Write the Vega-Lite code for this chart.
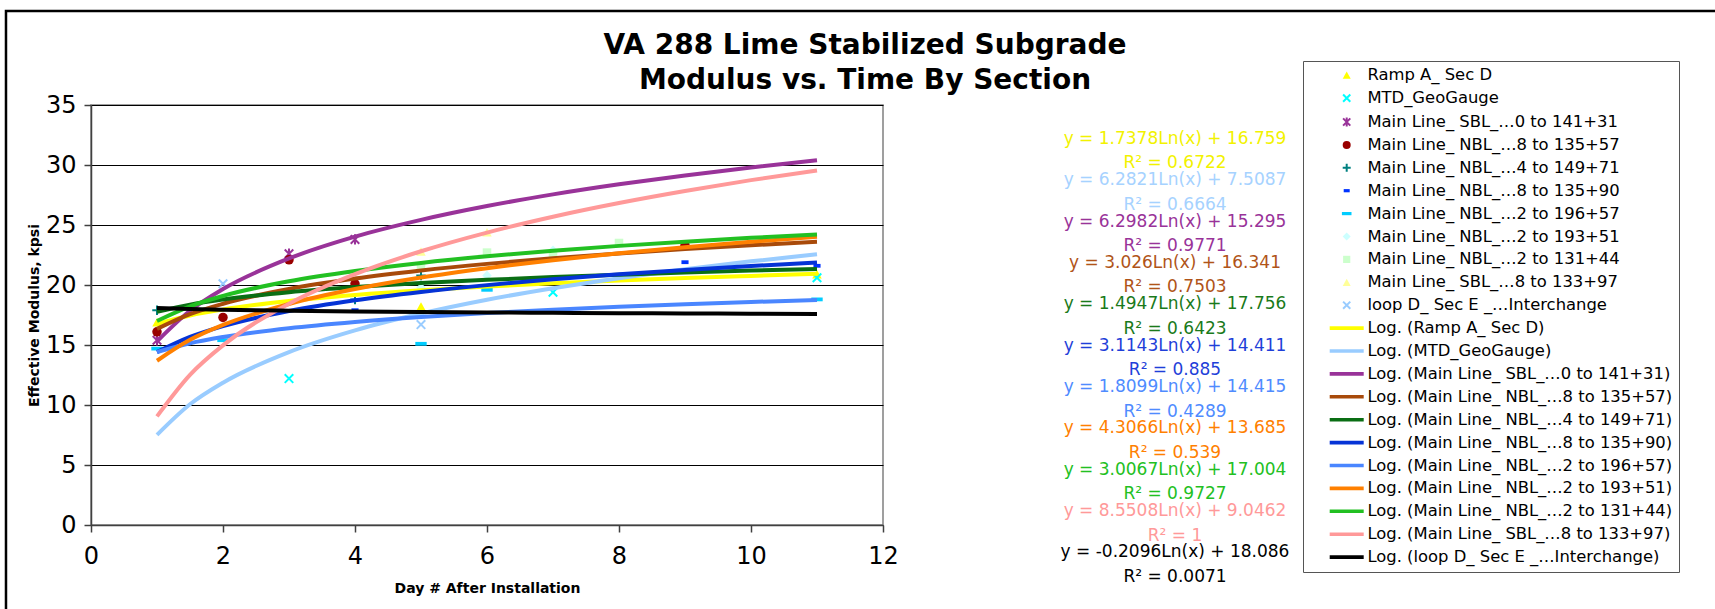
{
  "$schema": "https://vega.github.io/schema/vega-lite/v6.json",
  "width": 792,
  "height": 420,
  "autosize": {"type": "none"},
  "padding": {"left": 91, "top": 105, "right": 832, "bottom": 84},
  "background": "white",
  "title": {
    "text": ["VA 288 Lime Stabilized Subgrade", "Modulus vs. Time By Section"],
    "font": "DejaVu Sans", "fontSize": 28, "fontWeight": "bold", "color": "#000000",
    "anchor": "middle", "frame": "group", "dx": 378, "dy": 113.6, "offset": 0,
    "lineHeight": 35, "baseline": "bottom"
  },
  "datasets": {
    "pts": [
      {"series": "Ramp A_ Sec D", "day": 1, "kpsi": 16.9},
      {"series": "Ramp A_ Sec D", "day": 5, "kpsi": 18.2},
      {"series": "Ramp A_ Sec D", "day": 11, "kpsi": 20.9},
      {"series": "MTD_GeoGauge", "day": 3, "kpsi": 12.2},
      {"series": "MTD_GeoGauge", "day": 7, "kpsi": 19.4},
      {"series": "MTD_GeoGauge", "day": 11, "kpsi": 20.6},
      {"series": "Main Line_ SBL_…0 to 141+31", "day": 1, "kpsi": 15.4},
      {"series": "Main Line_ SBL_…0 to 141+31", "day": 3, "kpsi": 22.6},
      {"series": "Main Line_ SBL_…0 to 141+31", "day": 4, "kpsi": 23.8},
      {"series": "Main Line_ NBL_…8 to 135+57", "day": 1, "kpsi": 16.1},
      {"series": "Main Line_ NBL_…8 to 135+57", "day": 2, "kpsi": 17.3},
      {"series": "Main Line_ NBL_…8 to 135+57", "day": 3, "kpsi": 22.1},
      {"series": "Main Line_ NBL_…8 to 135+57", "day": 4, "kpsi": 20.1},
      {"series": "Main Line_ NBL_…8 to 135+57", "day": 9, "kpsi": 23.3},
      {"series": "Main Line_ NBL_…4 to 149+71", "day": 1, "kpsi": 17.9},
      {"series": "Main Line_ NBL_…4 to 149+71", "day": 4, "kpsi": 18.8},
      {"series": "Main Line_ NBL_…4 to 149+71", "day": 5, "kpsi": 20.8},
      {"series": "Main Line_ NBL_…8 to 135+90", "day": 4, "kpsi": 17.9},
      {"series": "Main Line_ NBL_…8 to 135+90", "day": 9, "kpsi": 21.9},
      {"series": "Main Line_ NBL_…8 to 135+90", "day": 11, "kpsi": 21.6},
      {"series": "Main Line_ NBL_…2 to 196+57", "day": 1, "kpsi": 14.7},
      {"series": "Main Line_ NBL_…2 to 196+57", "day": 2, "kpsi": 15.4},
      {"series": "Main Line_ NBL_…2 to 196+57", "day": 5, "kpsi": 15.1},
      {"series": "Main Line_ NBL_…2 to 196+57", "day": 6, "kpsi": 19.6},
      {"series": "Main Line_ NBL_…2 to 196+57", "day": 11, "kpsi": 18.8},
      {"series": "Main Line_ NBL_…2 to 193+51", "day": 5, "kpsi": 19.8},
      {"series": "Main Line_ NBL_…2 to 193+51", "day": 6, "kpsi": 20.8},
      {"series": "Main Line_ NBL_…2 to 193+51", "day": 7, "kpsi": 22.9},
      {"series": "Main Line_ NBL_…2 to 131+44", "day": 5, "kpsi": 21.5},
      {"series": "Main Line_ NBL_…2 to 131+44", "day": 6, "kpsi": 22.7},
      {"series": "Main Line_ NBL_…2 to 131+44", "day": 7, "kpsi": 22.6},
      {"series": "Main Line_ NBL_…2 to 131+44", "day": 8, "kpsi": 23.5},
      {"series": "Main Line_ SBL_…8 to 133+97", "day": 5, "kpsi": 22.8},
      {"series": "Main Line_ SBL_…8 to 133+97", "day": 6, "kpsi": 24.4},
      {"series": "loop D_ Sec E _…Interchange", "day": 2, "kpsi": 20.1},
      {"series": "loop D_ Sec E _…Interchange", "day": 5, "kpsi": 16.7}
    ],
    "curves": [
      {"trend": "Log. (Ramp A_ Sec D)", "day": 1, "kpsi": 16.76},
      {"trend": "Log. (Ramp A_ Sec D)", "day": 1.5, "kpsi": 17.46},
      {"trend": "Log. (Ramp A_ Sec D)", "day": 2, "kpsi": 17.96},
      {"trend": "Log. (Ramp A_ Sec D)", "day": 3, "kpsi": 18.67},
      {"trend": "Log. (Ramp A_ Sec D)", "day": 4, "kpsi": 19.17},
      {"trend": "Log. (Ramp A_ Sec D)", "day": 5, "kpsi": 19.56},
      {"trend": "Log. (Ramp A_ Sec D)", "day": 6, "kpsi": 19.87},
      {"trend": "Log. (Ramp A_ Sec D)", "day": 7, "kpsi": 20.14},
      {"trend": "Log. (Ramp A_ Sec D)", "day": 8, "kpsi": 20.37},
      {"trend": "Log. (Ramp A_ Sec D)", "day": 9, "kpsi": 20.58},
      {"trend": "Log. (Ramp A_ Sec D)", "day": 10, "kpsi": 20.76},
      {"trend": "Log. (Ramp A_ Sec D)", "day": 11, "kpsi": 20.93},
      {"trend": "Log. (MTD_GeoGauge)", "day": 1, "kpsi": 7.51},
      {"trend": "Log. (MTD_GeoGauge)", "day": 1.5, "kpsi": 10.06},
      {"trend": "Log. (MTD_GeoGauge)", "day": 2, "kpsi": 11.86},
      {"trend": "Log. (MTD_GeoGauge)", "day": 3, "kpsi": 14.41},
      {"trend": "Log. (MTD_GeoGauge)", "day": 4, "kpsi": 16.22},
      {"trend": "Log. (MTD_GeoGauge)", "day": 5, "kpsi": 17.62},
      {"trend": "Log. (MTD_GeoGauge)", "day": 6, "kpsi": 18.77},
      {"trend": "Log. (MTD_GeoGauge)", "day": 7, "kpsi": 19.73},
      {"trend": "Log. (MTD_GeoGauge)", "day": 8, "kpsi": 20.57},
      {"trend": "Log. (MTD_GeoGauge)", "day": 9, "kpsi": 21.31},
      {"trend": "Log. (MTD_GeoGauge)", "day": 10, "kpsi": 21.97},
      {"trend": "Log. (MTD_GeoGauge)", "day": 11, "kpsi": 22.57},
      {"trend": "Log. (Main Line_ SBL_…0 to 141+31)", "day": 1, "kpsi": 15.30},
      {"trend": "Log. (Main Line_ SBL_…0 to 141+31)", "day": 1.5, "kpsi": 17.85},
      {"trend": "Log. (Main Line_ SBL_…0 to 141+31)", "day": 2, "kpsi": 19.66},
      {"trend": "Log. (Main Line_ SBL_…0 to 141+31)", "day": 3, "kpsi": 22.21},
      {"trend": "Log. (Main Line_ SBL_…0 to 141+31)", "day": 4, "kpsi": 24.03},
      {"trend": "Log. (Main Line_ SBL_…0 to 141+31)", "day": 5, "kpsi": 25.43},
      {"trend": "Log. (Main Line_ SBL_…0 to 141+31)", "day": 6, "kpsi": 26.58},
      {"trend": "Log. (Main Line_ SBL_…0 to 141+31)", "day": 7, "kpsi": 27.55},
      {"trend": "Log. (Main Line_ SBL_…0 to 141+31)", "day": 8, "kpsi": 28.39},
      {"trend": "Log. (Main Line_ SBL_…0 to 141+31)", "day": 9, "kpsi": 29.13},
      {"trend": "Log. (Main Line_ SBL_…0 to 141+31)", "day": 10, "kpsi": 29.80},
      {"trend": "Log. (Main Line_ SBL_…0 to 141+31)", "day": 11, "kpsi": 30.40},
      {"trend": "Log. (Main Line_ NBL_…8 to 135+57)", "day": 1, "kpsi": 16.34},
      {"trend": "Log. (Main Line_ NBL_…8 to 135+57)", "day": 1.5, "kpsi": 17.57},
      {"trend": "Log. (Main Line_ NBL_…8 to 135+57)", "day": 2, "kpsi": 18.44},
      {"trend": "Log. (Main Line_ NBL_…8 to 135+57)", "day": 3, "kpsi": 19.67},
      {"trend": "Log. (Main Line_ NBL_…8 to 135+57)", "day": 4, "kpsi": 20.54},
      {"trend": "Log. (Main Line_ NBL_…8 to 135+57)", "day": 5, "kpsi": 21.21},
      {"trend": "Log. (Main Line_ NBL_…8 to 135+57)", "day": 6, "kpsi": 21.76},
      {"trend": "Log. (Main Line_ NBL_…8 to 135+57)", "day": 7, "kpsi": 22.23},
      {"trend": "Log. (Main Line_ NBL_…8 to 135+57)", "day": 8, "kpsi": 22.63},
      {"trend": "Log. (Main Line_ NBL_…8 to 135+57)", "day": 9, "kpsi": 22.99},
      {"trend": "Log. (Main Line_ NBL_…8 to 135+57)", "day": 10, "kpsi": 23.31},
      {"trend": "Log. (Main Line_ NBL_…8 to 135+57)", "day": 11, "kpsi": 23.60},
      {"trend": "Log. (Main Line_ NBL_…4 to 149+71)", "day": 1, "kpsi": 17.76},
      {"trend": "Log. (Main Line_ NBL_…4 to 149+71)", "day": 1.5, "kpsi": 18.36},
      {"trend": "Log. (Main Line_ NBL_…4 to 149+71)", "day": 2, "kpsi": 18.79},
      {"trend": "Log. (Main Line_ NBL_…4 to 149+71)", "day": 3, "kpsi": 19.40},
      {"trend": "Log. (Main Line_ NBL_…4 to 149+71)", "day": 4, "kpsi": 19.83},
      {"trend": "Log. (Main Line_ NBL_…4 to 149+71)", "day": 5, "kpsi": 20.16},
      {"trend": "Log. (Main Line_ NBL_…4 to 149+71)", "day": 6, "kpsi": 20.43},
      {"trend": "Log. (Main Line_ NBL_…4 to 149+71)", "day": 7, "kpsi": 20.66},
      {"trend": "Log. (Main Line_ NBL_…4 to 149+71)", "day": 8, "kpsi": 20.86},
      {"trend": "Log. (Main Line_ NBL_…4 to 149+71)", "day": 9, "kpsi": 21.04},
      {"trend": "Log. (Main Line_ NBL_…4 to 149+71)", "day": 10, "kpsi": 21.20},
      {"trend": "Log. (Main Line_ NBL_…4 to 149+71)", "day": 11, "kpsi": 21.34},
      {"trend": "Log. (Main Line_ NBL_…8 to 135+90)", "day": 1, "kpsi": 14.41},
      {"trend": "Log. (Main Line_ NBL_…8 to 135+90)", "day": 1.5, "kpsi": 15.67},
      {"trend": "Log. (Main Line_ NBL_…8 to 135+90)", "day": 2, "kpsi": 16.57},
      {"trend": "Log. (Main Line_ NBL_…8 to 135+90)", "day": 3, "kpsi": 17.83},
      {"trend": "Log. (Main Line_ NBL_…8 to 135+90)", "day": 4, "kpsi": 18.73},
      {"trend": "Log. (Main Line_ NBL_…8 to 135+90)", "day": 5, "kpsi": 19.42},
      {"trend": "Log. (Main Line_ NBL_…8 to 135+90)", "day": 6, "kpsi": 19.99},
      {"trend": "Log. (Main Line_ NBL_…8 to 135+90)", "day": 7, "kpsi": 20.47},
      {"trend": "Log. (Main Line_ NBL_…8 to 135+90)", "day": 8, "kpsi": 20.89},
      {"trend": "Log. (Main Line_ NBL_…8 to 135+90)", "day": 9, "kpsi": 21.25},
      {"trend": "Log. (Main Line_ NBL_…8 to 135+90)", "day": 10, "kpsi": 21.58},
      {"trend": "Log. (Main Line_ NBL_…8 to 135+90)", "day": 11, "kpsi": 21.88},
      {"trend": "Log. (Main Line_ NBL_…2 to 196+57)", "day": 1, "kpsi": 14.42},
      {"trend": "Log. (Main Line_ NBL_…2 to 196+57)", "day": 1.5, "kpsi": 15.15},
      {"trend": "Log. (Main Line_ NBL_…2 to 196+57)", "day": 2, "kpsi": 15.67},
      {"trend": "Log. (Main Line_ NBL_…2 to 196+57)", "day": 3, "kpsi": 16.40},
      {"trend": "Log. (Main Line_ NBL_…2 to 196+57)", "day": 4, "kpsi": 16.92},
      {"trend": "Log. (Main Line_ NBL_…2 to 196+57)", "day": 5, "kpsi": 17.33},
      {"trend": "Log. (Main Line_ NBL_…2 to 196+57)", "day": 6, "kpsi": 17.66},
      {"trend": "Log. (Main Line_ NBL_…2 to 196+57)", "day": 7, "kpsi": 17.94},
      {"trend": "Log. (Main Line_ NBL_…2 to 196+57)", "day": 8, "kpsi": 18.18},
      {"trend": "Log. (Main Line_ NBL_…2 to 196+57)", "day": 9, "kpsi": 18.39},
      {"trend": "Log. (Main Line_ NBL_…2 to 196+57)", "day": 10, "kpsi": 18.58},
      {"trend": "Log. (Main Line_ NBL_…2 to 196+57)", "day": 11, "kpsi": 18.76},
      {"trend": "Log. (Main Line_ NBL_…2 to 193+51)", "day": 1, "kpsi": 13.69},
      {"trend": "Log. (Main Line_ NBL_…2 to 193+51)", "day": 1.5, "kpsi": 15.43},
      {"trend": "Log. (Main Line_ NBL_…2 to 193+51)", "day": 2, "kpsi": 16.67},
      {"trend": "Log. (Main Line_ NBL_…2 to 193+51)", "day": 3, "kpsi": 18.42},
      {"trend": "Log. (Main Line_ NBL_…2 to 193+51)", "day": 4, "kpsi": 19.66},
      {"trend": "Log. (Main Line_ NBL_…2 to 193+51)", "day": 5, "kpsi": 20.62},
      {"trend": "Log. (Main Line_ NBL_…2 to 193+51)", "day": 6, "kpsi": 21.40},
      {"trend": "Log. (Main Line_ NBL_…2 to 193+51)", "day": 7, "kpsi": 22.07},
      {"trend": "Log. (Main Line_ NBL_…2 to 193+51)", "day": 8, "kpsi": 22.64},
      {"trend": "Log. (Main Line_ NBL_…2 to 193+51)", "day": 9, "kpsi": 23.15},
      {"trend": "Log. (Main Line_ NBL_…2 to 193+51)", "day": 10, "kpsi": 23.60},
      {"trend": "Log. (Main Line_ NBL_…2 to 193+51)", "day": 11, "kpsi": 24.01},
      {"trend": "Log. (Main Line_ NBL_…2 to 131+44)", "day": 1, "kpsi": 17.00},
      {"trend": "Log. (Main Line_ NBL_…2 to 131+44)", "day": 1.5, "kpsi": 18.22},
      {"trend": "Log. (Main Line_ NBL_…2 to 131+44)", "day": 2, "kpsi": 19.09},
      {"trend": "Log. (Main Line_ NBL_…2 to 131+44)", "day": 3, "kpsi": 20.31},
      {"trend": "Log. (Main Line_ NBL_…2 to 131+44)", "day": 4, "kpsi": 21.17},
      {"trend": "Log. (Main Line_ NBL_…2 to 131+44)", "day": 5, "kpsi": 21.84},
      {"trend": "Log. (Main Line_ NBL_…2 to 131+44)", "day": 6, "kpsi": 22.39},
      {"trend": "Log. (Main Line_ NBL_…2 to 131+44)", "day": 7, "kpsi": 22.86},
      {"trend": "Log. (Main Line_ NBL_…2 to 131+44)", "day": 8, "kpsi": 23.26},
      {"trend": "Log. (Main Line_ NBL_…2 to 131+44)", "day": 9, "kpsi": 23.61},
      {"trend": "Log. (Main Line_ NBL_…2 to 131+44)", "day": 10, "kpsi": 23.93},
      {"trend": "Log. (Main Line_ NBL_…2 to 131+44)", "day": 11, "kpsi": 24.21},
      {"trend": "Log. (Main Line_ SBL_…8 to 133+97)", "day": 1, "kpsi": 9.05},
      {"trend": "Log. (Main Line_ SBL_…8 to 133+97)", "day": 1.5, "kpsi": 12.51},
      {"trend": "Log. (Main Line_ SBL_…8 to 133+97)", "day": 2, "kpsi": 14.97},
      {"trend": "Log. (Main Line_ SBL_…8 to 133+97)", "day": 3, "kpsi": 18.44},
      {"trend": "Log. (Main Line_ SBL_…8 to 133+97)", "day": 4, "kpsi": 20.90},
      {"trend": "Log. (Main Line_ SBL_…8 to 133+97)", "day": 5, "kpsi": 22.81},
      {"trend": "Log. (Main Line_ SBL_…8 to 133+97)", "day": 6, "kpsi": 24.37},
      {"trend": "Log. (Main Line_ SBL_…8 to 133+97)", "day": 7, "kpsi": 25.69},
      {"trend": "Log. (Main Line_ SBL_…8 to 133+97)", "day": 8, "kpsi": 26.83},
      {"trend": "Log. (Main Line_ SBL_…8 to 133+97)", "day": 9, "kpsi": 27.83},
      {"trend": "Log. (Main Line_ SBL_…8 to 133+97)", "day": 10, "kpsi": 28.74},
      {"trend": "Log. (Main Line_ SBL_…8 to 133+97)", "day": 11, "kpsi": 29.55},
      {"trend": "Log. (loop D_ Sec E _…Interchange)", "day": 1, "kpsi": 18.09},
      {"trend": "Log. (loop D_ Sec E _…Interchange)", "day": 1.5, "kpsi": 18.00},
      {"trend": "Log. (loop D_ Sec E _…Interchange)", "day": 2, "kpsi": 17.94},
      {"trend": "Log. (loop D_ Sec E _…Interchange)", "day": 3, "kpsi": 17.86},
      {"trend": "Log. (loop D_ Sec E _…Interchange)", "day": 4, "kpsi": 17.80},
      {"trend": "Log. (loop D_ Sec E _…Interchange)", "day": 5, "kpsi": 17.75},
      {"trend": "Log. (loop D_ Sec E _…Interchange)", "day": 6, "kpsi": 17.71},
      {"trend": "Log. (loop D_ Sec E _…Interchange)", "day": 7, "kpsi": 17.68},
      {"trend": "Log. (loop D_ Sec E _…Interchange)", "day": 8, "kpsi": 17.65},
      {"trend": "Log. (loop D_ Sec E _…Interchange)", "day": 9, "kpsi": 17.63},
      {"trend": "Log. (loop D_ Sec E _…Interchange)", "day": 10, "kpsi": 17.60},
      {"trend": "Log. (loop D_ Sec E _…Interchange)", "day": 11, "kpsi": 17.58}
    ],
    "eqs": [
      {"eq": "y = 1.7378Ln(x) + 16.759", "r2": "R² = 0.6722"},
      {"eq": "y = 6.2821Ln(x) + 7.5087", "r2": "R² = 0.6664"},
      {"eq": "y = 6.2982Ln(x) + 15.295", "r2": "R² = 0.9771"},
      {"eq": "y = 3.026Ln(x) + 16.341", "r2": "R² = 0.7503"},
      {"eq": "y = 1.4947Ln(x) + 17.756", "r2": "R² = 0.6423"},
      {"eq": "y = 3.1143Ln(x) + 14.411", "r2": "R² = 0.885"},
      {"eq": "y = 1.8099Ln(x) + 14.415", "r2": "R² = 0.4289"},
      {"eq": "y = 4.3066Ln(x) + 13.685", "r2": "R² = 0.539"},
      {"eq": "y = 3.0067Ln(x) + 17.004", "r2": "R² = 0.9727"},
      {"eq": "y = 8.5508Ln(x) + 9.0462", "r2": "R² = 1"},
      {"eq": "y = -0.2096Ln(x) + 18.086", "r2": "R² = 0.0071"}
    ]
  },
  "config": {
    "view": {"fill": "#C8C8C8", "stroke": "#808080", "strokeWidth": 1.5},
    "axis": {
      "labelFont": "DejaVu Sans", "labelFontSize": 24, "labelColor": "#000000", "labelFlush": false,
      "titleFont": "DejaVu Sans", "titleFontSize": 14, "titleFontWeight": "bold", "titleColor": "#000000",
      "domainColor": "#404040", "domainWidth": 1.5, "tickColor": "#404040", "tickWidth": 1.5, "tickSize": 7,
      "gridColor": "#000000", "gridOpacity": 1, "gridWidth": 1
    },
    "legend": {"labelFont": "DejaVu Sans", "labelFontSize": 16.4, "labelColor": "#000000", "labelLimit": 600}
  },
  "layer": [
    {
      "data": {"name": "pts"},
      "mark": {"type": "point", "opacity": 1, "size": 90, "strokeWidth": 2},
      "encoding": {
        "x": {
          "field": "day", "type": "quantitative", "title": "Day # After Installation",
          "scale": {"domain": [0, 12], "nice": false, "zero": false},
          "axis": {"values": [0, 2, 4, 6, 8, 10, 12], "format": "d", "grid": false, "labelFlush": false, "labelPadding": 12, "titleX": 396, "titleY": 63, "titleBaseline": "middle", "titleAlign": "center"}
        },
        "y": {
          "field": "kpsi", "type": "quantitative", "title": "Effective Modulus, kpsi",
          "scale": {"domain": [0, 35], "nice": false},
          "axis": {"values": [0, 5, 10, 15, 20, 25, 30, 35], "format": "d", "grid": true, "labelFlush": false, "labelPadding": 8, "titleX": -57, "titleY": 210, "titleAngle": -90, "titleBaseline": "middle", "titleAlign": "center"}
        },
        "fill": {
          "field": "series", "type": "nominal",
          "scale": {
            "domain": ["Ramp A_ Sec D", "MTD_GeoGauge", "Main Line_ SBL_…0 to 141+31", "Main Line_ NBL_…8 to 135+57", "Main Line_ NBL_…4 to 149+71", "Main Line_ NBL_…8 to 135+90", "Main Line_ NBL_…2 to 196+57", "Main Line_ NBL_…2 to 193+51", "Main Line_ NBL_…2 to 131+44", "Main Line_ SBL_…8 to 133+97", "loop D_ Sec E _…Interchange", "Log. (Ramp A_ Sec D)", "Log. (MTD_GeoGauge)", "Log. (Main Line_ SBL_…0 to 141+31)", "Log. (Main Line_ NBL_…8 to 135+57)", "Log. (Main Line_ NBL_…4 to 149+71)", "Log. (Main Line_ NBL_…8 to 135+90)", "Log. (Main Line_ NBL_…2 to 196+57)", "Log. (Main Line_ NBL_…2 to 193+51)", "Log. (Main Line_ NBL_…2 to 131+44)", "Log. (Main Line_ SBL_…8 to 133+97)", "Log. (loop D_ Sec E _…Interchange)"],
            "range": ["#FFFF00", "transparent", "transparent", "#990000", "transparent", "#0033FF", "#00CCFF", "#CCFFFF", "#CCFFCC", "#FFFF99", "transparent", "#FFFF00", "#99CCFF", "#993399", "#A84A0A", "#0A6E14", "#0533D6", "#4A86FF", "#FF8000", "#22C022", "#FF9999", "#000000"]
          },
          "legend": {"title": null, "orient": "none", "legendX": 1212, "legendY": -44, "padding": 6, "strokeColor": "#555555", "fillColor": "#FFFFFF", "rowPadding": 5.9, "symbolOffset": 29.5, "labelOffset": 12.5, "symbolSize": 64, "symbolStrokeWidth": 2, "labelFontSize": 16.4, "labelLimit": 600}
        },
        "stroke": {
          "field": "series", "type": "nominal",
          "scale": {
            "domain": ["Ramp A_ Sec D", "MTD_GeoGauge", "Main Line_ SBL_…0 to 141+31", "Main Line_ NBL_…8 to 135+57", "Main Line_ NBL_…4 to 149+71", "Main Line_ NBL_…8 to 135+90", "Main Line_ NBL_…2 to 196+57", "Main Line_ NBL_…2 to 193+51", "Main Line_ NBL_…2 to 131+44", "Main Line_ SBL_…8 to 133+97", "loop D_ Sec E _…Interchange", "Log. (Ramp A_ Sec D)", "Log. (MTD_GeoGauge)", "Log. (Main Line_ SBL_…0 to 141+31)", "Log. (Main Line_ NBL_…8 to 135+57)", "Log. (Main Line_ NBL_…4 to 149+71)", "Log. (Main Line_ NBL_…8 to 135+90)", "Log. (Main Line_ NBL_…2 to 196+57)", "Log. (Main Line_ NBL_…2 to 193+51)", "Log. (Main Line_ NBL_…2 to 131+44)", "Log. (Main Line_ SBL_…8 to 133+97)", "Log. (loop D_ Sec E _…Interchange)"],
            "range": ["transparent", "#00FFFF", "#993399", "transparent", "#008080", "transparent", "transparent", "transparent", "transparent", "transparent", "#99CCFF", "#FFFF00", "#99CCFF", "#993399", "#A84A0A", "#0A6E14", "#0533D6", "#4A86FF", "#FF8000", "#22C022", "#FF9999", "#000000"]
          },
          "legend": {"title": null, "orient": "none", "legendX": 1212, "legendY": -44, "padding": 6, "strokeColor": "#555555", "fillColor": "#FFFFFF", "rowPadding": 5.9, "symbolOffset": 29.5, "labelOffset": 12.5, "symbolSize": 64, "symbolStrokeWidth": 2, "labelFontSize": 16.4, "labelLimit": 600}
        },
        "shape": {
          "field": "series", "type": "nominal",
          "scale": {
            "domain": ["Ramp A_ Sec D", "MTD_GeoGauge", "Main Line_ SBL_…0 to 141+31", "Main Line_ NBL_…8 to 135+57", "Main Line_ NBL_…4 to 149+71", "Main Line_ NBL_…8 to 135+90", "Main Line_ NBL_…2 to 196+57", "Main Line_ NBL_…2 to 193+51", "Main Line_ NBL_…2 to 131+44", "Main Line_ SBL_…8 to 133+97", "loop D_ Sec E _…Interchange", "Log. (Ramp A_ Sec D)", "Log. (MTD_GeoGauge)", "Log. (Main Line_ SBL_…0 to 141+31)", "Log. (Main Line_ NBL_…8 to 135+57)", "Log. (Main Line_ NBL_…4 to 149+71)", "Log. (Main Line_ NBL_…8 to 135+90)", "Log. (Main Line_ NBL_…2 to 196+57)", "Log. (Main Line_ NBL_…2 to 193+51)", "Log. (Main Line_ NBL_…2 to 131+44)", "Log. (Main Line_ SBL_…8 to 133+97)", "Log. (loop D_ Sec E _…Interchange)"],
            "range": ["M0,-0.9L1,0.9L-1,0.9Z", "M-0.9,-0.9L0.9,0.9M-0.9,0.9L0.9,-0.9", "M-0.9,-0.9L0.9,0.9M-0.9,0.9L0.9,-0.9M0,-1.1L0,1.1", "circle", "M-1,0L1,0M0,-1L0,1", "M-0.75,-0.4L0.75,-0.4L0.75,0.4L-0.75,0.4Z", "M-1.2,-0.4L1.2,-0.4L1.2,0.4L-1.2,0.4Z", "M0,-1L1,0L0,1L-1,0Z", "M-0.9,-0.9L0.9,-0.9L0.9,0.9L-0.9,0.9Z", "M0,-0.9L1,0.9L-1,0.9Z", "M-0.9,-0.9L0.9,0.9M-0.9,0.9L0.9,-0.9", "M-4,-0.2L4,-0.2L4,0.2L-4,0.2Z", "M-4,-0.2L4,-0.2L4,0.2L-4,0.2Z", "M-4,-0.2L4,-0.2L4,0.2L-4,0.2Z", "M-4,-0.2L4,-0.2L4,0.2L-4,0.2Z", "M-4,-0.2L4,-0.2L4,0.2L-4,0.2Z", "M-4,-0.2L4,-0.2L4,0.2L-4,0.2Z", "M-4,-0.2L4,-0.2L4,0.2L-4,0.2Z", "M-4,-0.2L4,-0.2L4,0.2L-4,0.2Z", "M-4,-0.2L4,-0.2L4,0.2L-4,0.2Z", "M-4,-0.2L4,-0.2L4,0.2L-4,0.2Z", "M-4,-0.2L4,-0.2L4,0.2L-4,0.2Z"]
          },
          "legend": {"title": null, "orient": "none", "legendX": 1212, "legendY": -44, "padding": 6, "strokeColor": "#555555", "fillColor": "#FFFFFF", "rowPadding": 5.9, "symbolOffset": 29.5, "labelOffset": 12.5, "symbolSize": 64, "symbolStrokeWidth": 2, "labelFontSize": 16.4, "labelLimit": 600}
        }
      }
    },
    {
      "data": {"name": "curves"},
      "mark": {"type": "line", "strokeWidth": 4, "interpolate": "monotone", "clip": true},
      "encoding": {
        "x": {"field": "day", "type": "quantitative"},
        "y": {"field": "kpsi", "type": "quantitative"},
        "stroke": {
          "field": "trend", "type": "nominal",
          "legend": {"title": null, "orient": "none", "legendX": 1212, "legendY": -44, "padding": 6, "strokeColor": "#555555", "fillColor": "#FFFFFF", "rowPadding": 5.9, "symbolOffset": 29.5, "labelOffset": 12.5, "symbolSize": 64, "symbolStrokeWidth": 2, "labelFontSize": 16.4, "labelLimit": 600}
        }
      }
    },
    {
      "data": {"name": "eqs"},
      "mark": {"type": "point", "opacity": 0},
      "encoding": {
        "color": {
          "field": "eq", "type": "nominal",
          "scale": {
            "domain": ["y = 1.7378Ln(x) + 16.759", "y = 6.2821Ln(x) + 7.5087", "y = 6.2982Ln(x) + 15.295", "y = 3.026Ln(x) + 16.341", "y = 1.4947Ln(x) + 17.756", "y = 3.1143Ln(x) + 14.411", "y = 1.8099Ln(x) + 14.415", "y = 4.3066Ln(x) + 13.685", "y = 3.0067Ln(x) + 17.004", "y = 8.5508Ln(x) + 9.0462", "y = -0.2096Ln(x) + 18.086"],
            "range": ["#F2F200", "#A6D2FF", "#993399", "#B05418", "#1A7A1A", "#1F3FD9", "#4F8BFF", "#FF8000", "#22C022", "#FF9999", "#000000"]
          },
          "legend": {
            "title": null, "orient": "none", "legendX": 967, "legendY": 25.3, "padding": 0, "rowPadding": 23.35,
            "symbolSize": 1, "symbolOpacity": 0, "symbolStrokeWidth": 0, "symbolOffset": 0, "labelOffset": 100, "labelAlign": "center",
            "labelFontSize": 17, "labelLimit": 600,
            "labelColor": {"expr": "scale('color', datum.value)"}
          }
        }
      }
    },
    {
      "data": {"name": "eqs"},
      "mark": {"type": "point", "opacity": 0},
      "encoding": {
        "strokeDash": {
          "field": "r2", "type": "nominal",
          "scale": {
            "domain": ["R² = 0.6722", "R² = 0.6664", "R² = 0.9771", "R² = 0.7503", "R² = 0.6423", "R² = 0.885", "R² = 0.4289", "R² = 0.539", "R² = 0.9727", "R² = 1", "R² = 0.0071"]
          },
          "legend": {
            "title": null, "orient": "none", "legendX": 967, "legendY": 49.9, "padding": 0, "rowPadding": 23.35,
            "symbolSize": 1, "symbolOpacity": 0, "symbolStrokeWidth": 0, "symbolOffset": 0, "labelOffset": 100, "labelAlign": "center",
            "labelFontSize": 17, "labelLimit": 600,
            "labelColor": {"expr": "['#F2F200','#A6D2FF','#993399','#B05418','#1A7A1A','#1F3FD9','#4F8BFF','#FF8000','#22C022','#FF9999','#000000'][indexof(['R² = 0.6722','R² = 0.6664','R² = 0.9771','R² = 0.7503','R² = 0.6423','R² = 0.885','R² = 0.4289','R² = 0.539','R² = 0.9727','R² = 1','R² = 0.0071'], datum.value)]"}
          }
        }
      }
    },
    {
      "data": {"values": [{}]},
      "mark": {"type": "rect", "fill": "transparent", "stroke": "#000000", "strokeWidth": 2.5, "clip": false},
      "encoding": {
        "x": {"datum": -1.288},
        "x2": {"datum": 26},
        "y": {"datum": 42.83},
        "y2": {"datum": -8}
      }
    }
  ]
}
